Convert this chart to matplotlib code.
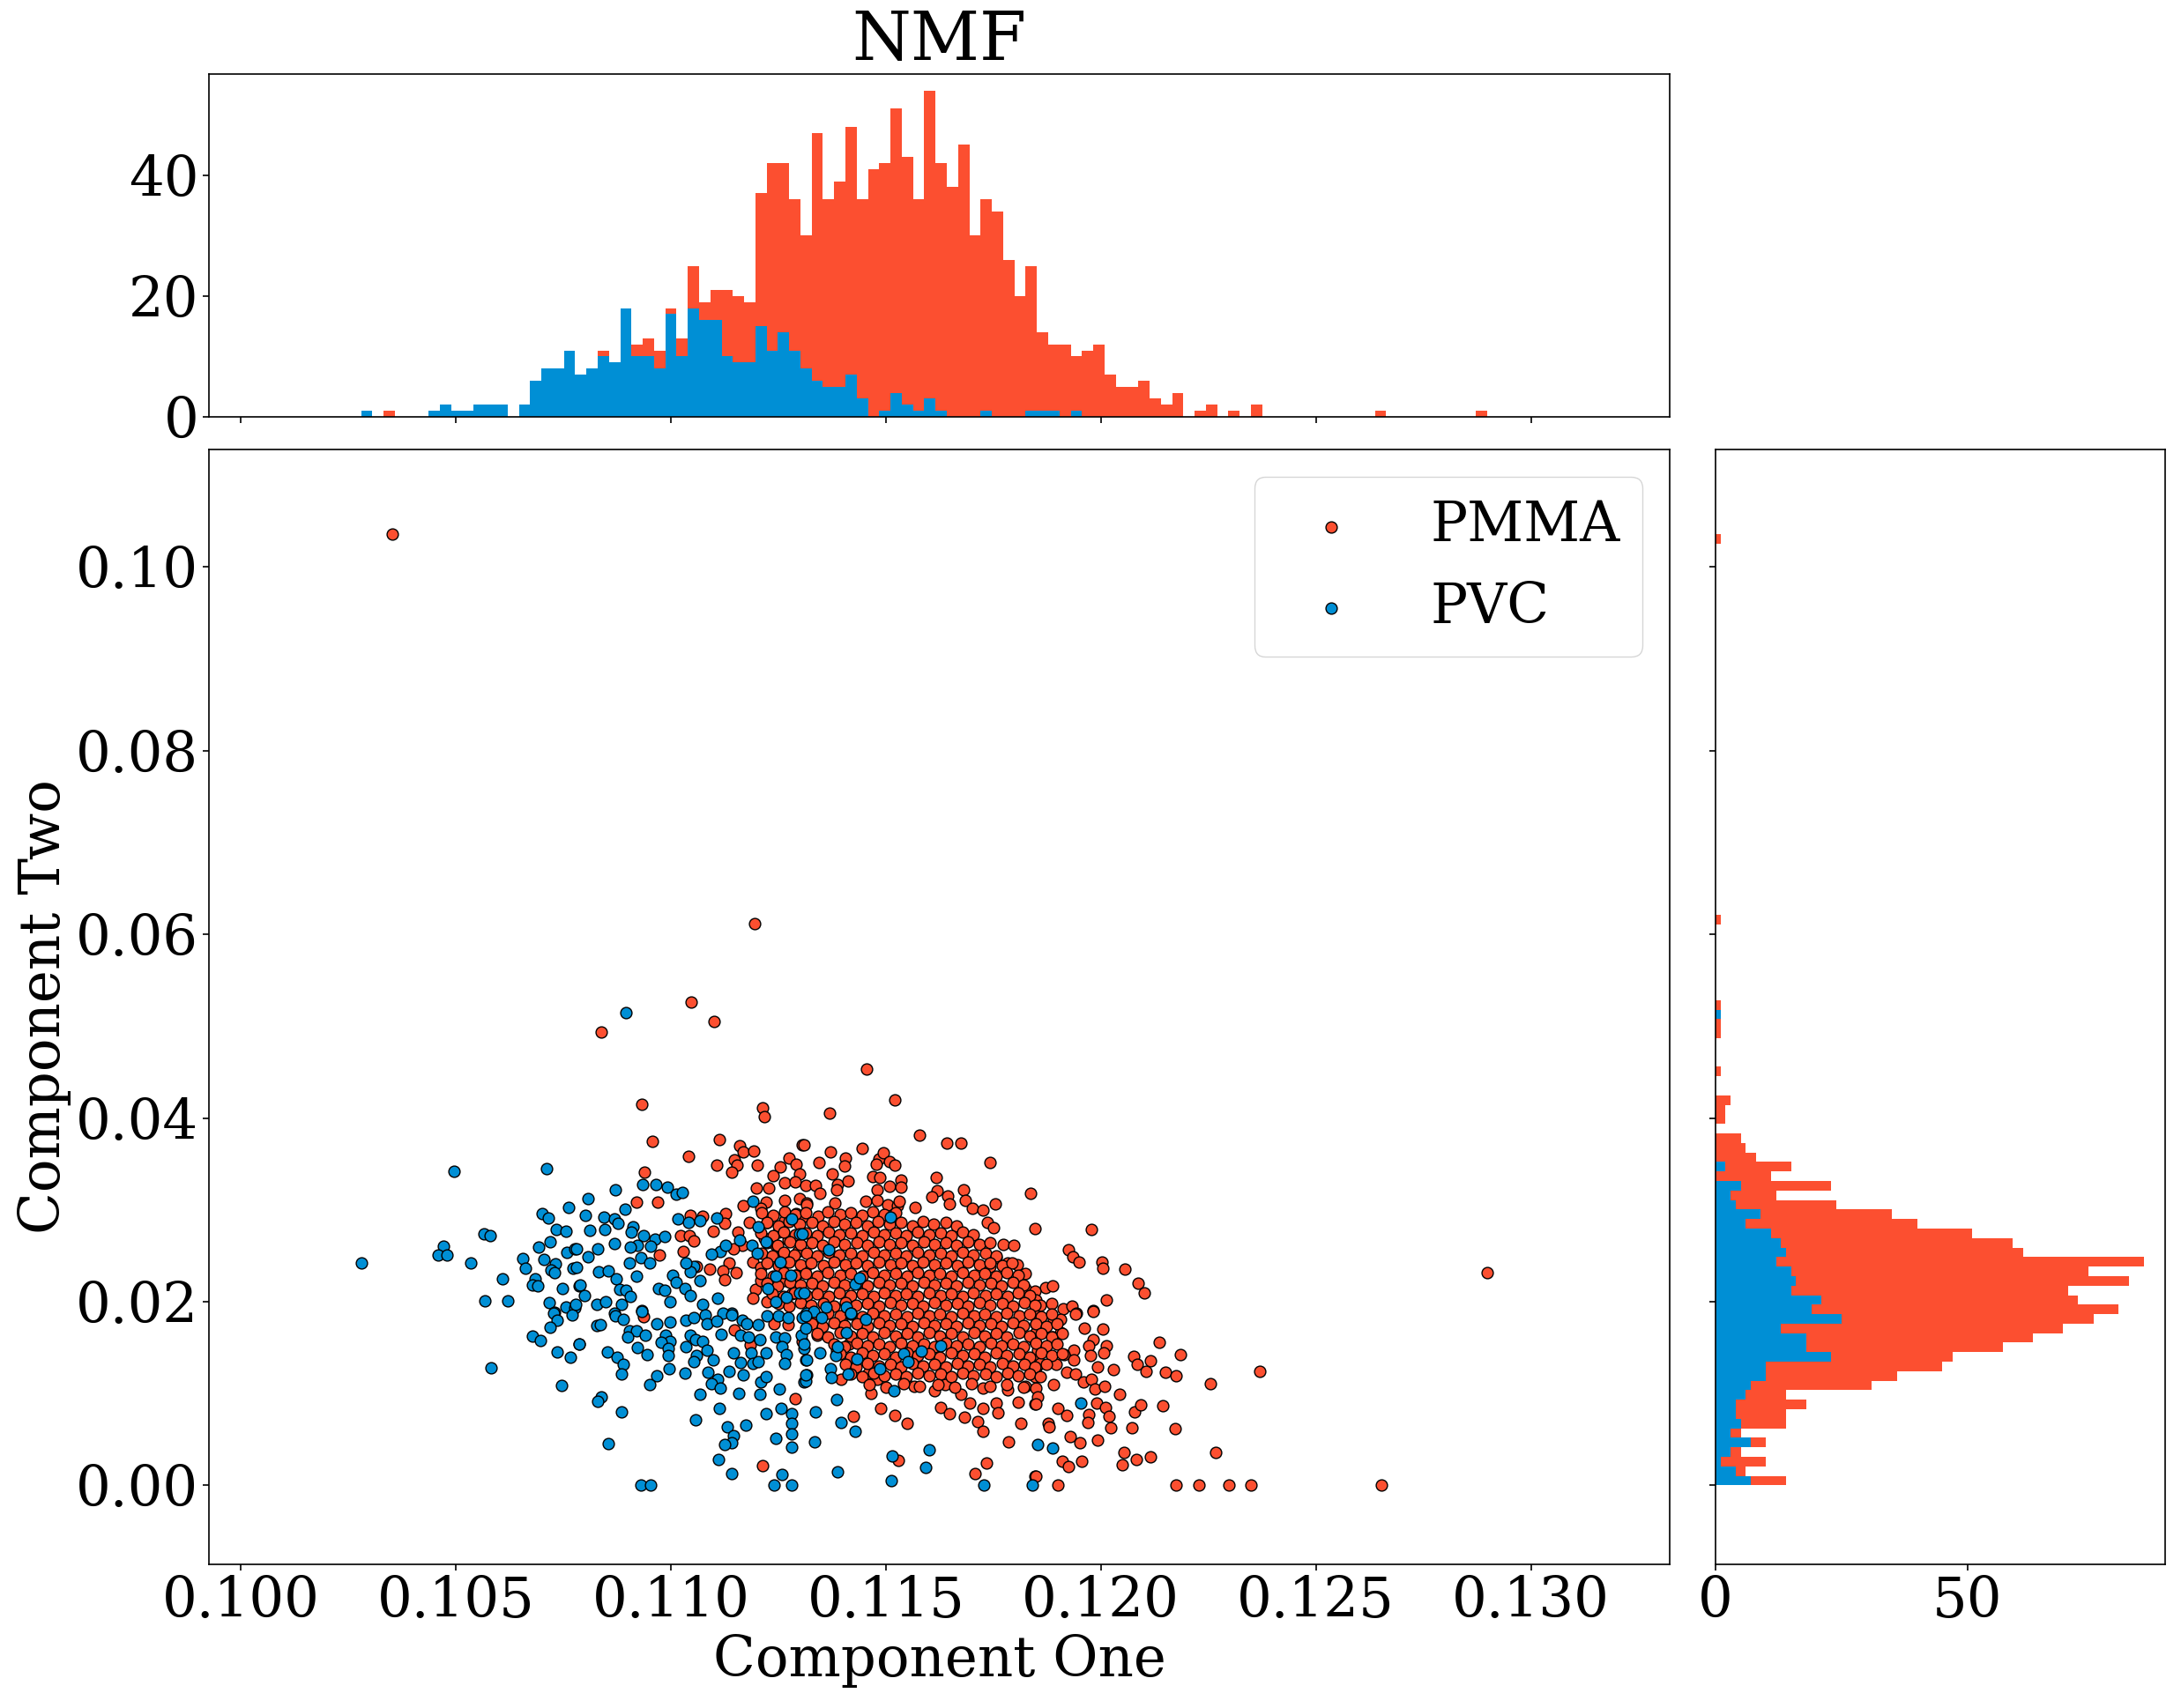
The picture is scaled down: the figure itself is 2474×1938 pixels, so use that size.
import numpy as np
import matplotlib
matplotlib.use("Agg")
import matplotlib.pyplot as plt

# colours (fivethirtyeight style)
red = "#fc4f30"
blue = "#008fd5"

# ---------------- scatter data ----------------
# PMMA outliers
pmma_outliers = [(0.10353, 0.1036), (0.11194, 0.0612), (0.11048, 0.0526), (0.11100, 0.0505),
                 (0.10838, 0.0494), (0.11456, 0.0453), (0.10932, 0.0415), (0.11520, 0.0420),
                 (0.11369, 0.0405), (0.11213, 0.0411), (0.11218, 0.0402), (0.12653, 0.0),
                 (0.12899, 0.02318)]

# PMMA points around the edge of the cloud
pmma_edge = [
    (0.10957, 0.03748), (0.11113, 0.03764), (0.11160, 0.03700), (0.11169, 0.03636), (0.11192, 0.03642),
    (0.11042, 0.03588), (0.11106, 0.03489), (0.11147, 0.03546), (0.11154, 0.03492), (0.11142, 0.03412),
    (0.11202, 0.03486), (0.11305, 0.03710), (0.11274, 0.03562), (0.11292, 0.03502), (0.11255, 0.03470),
    (0.10939, 0.03412), (0.11300, 0.03396), (0.11238, 0.03370), (0.11265, 0.03297), (0.11290, 0.03306),
    (0.11200, 0.03242), (0.11227, 0.03236), (0.11313, 0.03268), (0.10920, 0.03086), (0.10969, 0.03082),
    (0.11168, 0.03044), (0.11221, 0.03082), (0.11265, 0.03108), (0.11299, 0.03124), (0.11210, 0.03022),
    (0.11316, 0.03076), (0.11046, 0.02942), (0.11074, 0.02932), (0.11128, 0.02961), (0.11125, 0.02852),
    (0.11098, 0.02766), (0.11022, 0.02724), (0.11043, 0.02718), (0.11053, 0.02660), (0.11029, 0.02548),
    (0.10973, 0.02510), (0.11183, 0.02862), (0.11156, 0.02756), (0.11167, 0.02612), (0.11145, 0.02574),
    (0.11135, 0.02420), (0.11121, 0.02340), (0.11152, 0.02318), (0.11125, 0.02244), (0.11091, 0.02356),
    (0.11060, 0.02388), (0.11190, 0.02436), (0.11210, 0.02372), (0.11224, 0.02868), (0.11251, 0.02756),
    (0.11265, 0.02884), (0.11292, 0.02964), (0.11309, 0.02932), (0.11217, 0.02692), (0.11244, 0.02612),
    (0.11272, 0.02676), (0.11296, 0.02548), (0.11251, 0.02484), (0.11197, 0.02132), (0.11210, 0.02228),
    (0.11238, 0.02260), (0.11265, 0.02228), (0.11292, 0.02292), (0.11313, 0.02388), (0.11190, 0.02036),
    (0.11224, 0.02004), (0.11282, 0.02084),
    (0.10936, 0.01837), (0.11147, 0.01693), (0.11185, 0.01533), (0.11289, 0.00947), (0.11214, 0.00211),
    (0.11241, 0.01763), (0.11272, 0.01747), (0.11306, 0.01571),
    (0.11579, 0.03812), (0.11641, 0.03726), (0.11674, 0.03726), (0.11743, 0.03514), (0.11836, 0.03182),
    (0.11847, 0.02794), (0.11446, 0.03668), (0.11372, 0.03630), (0.11407, 0.03566), (0.11405, 0.03476),
    (0.11345, 0.03514), (0.11309, 0.03706), (0.11376, 0.03396), (0.11484, 0.03556), (0.11494, 0.03620),
    (0.11508, 0.03530), (0.11521, 0.03492), (0.11478, 0.03502), (0.11617, 0.03354), (0.11680, 0.03220),
    (0.11620, 0.03214), (0.11607, 0.03140), (0.11643, 0.03156), (0.11648, 0.03066), (0.11685, 0.03108),
    (0.11702, 0.03022), (0.11726, 0.02996), (0.11754, 0.03066), (0.11569, 0.03028), (0.11736, 0.02862),
    (0.11750, 0.02804), (0.11774, 0.02628), (0.11798, 0.02612), (0.11784, 0.02420), (0.11805, 0.02404),
    (0.11825, 0.02308), (0.11825, 0.02148), (0.11846, 0.01972), (0.11757, 0.02484), (0.11743, 0.02388),
    (0.11470, 0.03364), (0.11487, 0.03354), (0.11508, 0.03258), (0.11535, 0.03322), (0.11535, 0.03252),
    (0.11388, 0.03274), (0.11412, 0.03316), (0.11385, 0.03220), (0.11337, 0.03268), (0.11347, 0.03182),
    (0.11316, 0.03060), (0.11381, 0.03076), (0.11453, 0.03092), (0.11480, 0.03220), (0.11480, 0.03108),
    (0.11504, 0.03060), (0.11528, 0.03044), (0.11531, 0.03092),
    (0.11977, 0.02785), (0.11925, 0.02570), (0.11935, 0.02490), (0.11950, 0.02430), (0.12003, 0.02436),
    (0.12005, 0.02362), (0.12056, 0.02353), (0.12087, 0.02202), (0.12100, 0.02094), (0.11872, 0.02154),
    (0.11888, 0.02174), (0.11846, 0.02116), (0.11849, 0.02020), (0.11860, 0.01962), (0.11885, 0.01978),
    (0.11912, 0.01924), (0.11933, 0.01950), (0.11943, 0.01876), (0.11982, 0.01902), (0.12012, 0.02020),
    (0.11465, 0.00999), (0.11489, 0.00835), (0.11520, 0.00765), (0.11549, 0.00675), (0.11424, 0.00755),
    (0.11627, 0.00851), (0.11648, 0.00781), (0.11682, 0.00739), (0.11695, 0.00893), (0.11725, 0.00835),
    (0.11713, 0.00697), (0.11725, 0.00589), (0.11757, 0.00899), (0.11760, 0.00787), (0.11808, 0.00905),
    (0.11813, 0.00675), (0.11846, 0.00883), (0.11786, 0.00473), (0.11529, 0.00275), (0.11735, 0.00243),
    (0.11708, 0.00125), (0.11846, 0.00099), (0.11545, 0.01139), (0.11566, 0.01075), (0.11613, 0.01027),
    (0.11637, 0.01097), (0.11675, 0.00995), (0.11726, 0.01059), (0.11784, 0.01043), (0.11825, 0.01075),
    (0.11480, 0.01155), (0.11460, 0.01219), (0.11395, 0.01155), (0.11340, 0.01635), (0.11333, 0.01779),
    (0.11398, 0.01779), (0.11415, 0.01539), (0.11385, 0.01475),
    (0.11890, 0.01811), (0.11907, 0.01811), (0.11941, 0.01865), (0.11982, 0.01897), (0.11962, 0.01715),
    (0.12005, 0.01705), (0.11907, 0.01667), (0.11887, 0.01619), (0.11866, 0.01683), (0.11849, 0.01763),
    (0.11982, 0.01587), (0.11972, 0.01523), (0.12013, 0.01517), (0.12006, 0.01443), (0.11938, 0.01475),
    (0.11914, 0.01427), (0.11897, 0.01315), (0.11938, 0.01363), (0.11993, 0.01289), (0.11976, 0.01411),
    (0.12030, 0.01257), (0.11921, 0.01235), (0.11941, 0.01213), (0.11959, 0.01129), (0.11979, 0.01155),
    (0.11986, 0.01053), (0.12008, 0.01075), (0.11890, 0.01097), (0.12044, 0.00989), (0.11849, 0.01059),
    (0.11853, 0.00963), (0.11849, 0.00883), (0.11900, 0.00841), (0.11921, 0.00761), (0.11991, 0.00893),
    (0.12010, 0.00851), (0.11972, 0.00771), (0.11969, 0.00685), (0.12018, 0.00749), (0.12023, 0.00627),
    (0.11877, 0.00675), (0.11880, 0.00637), (0.11928, 0.00531), (0.11952, 0.00467), (0.11993, 0.00489),
    (0.12073, 0.00627), (0.12078, 0.00803), (0.12092, 0.00873), (0.12145, 0.00867), (0.12172, 0.00617),
    (0.12054, 0.00355), (0.12082, 0.00281), (0.12116, 0.00307), (0.12049, 0.00227), (0.11911, 0.00259),
    (0.11924, 0.00201), (0.11955, 0.00259), (0.11900, 0.0), (0.11849, 0.00099), (0.12268, 0.00355),
    (0.12174, 0.0), (0.12228, 0.0), (0.12298, 0.0), (0.12349, 0.0), (0.12077, 0.01405),
    (0.12085, 0.01315), (0.12105, 0.01241), (0.12116, 0.01357), (0.12136, 0.01555), (0.12151, 0.01235),
    (0.12175, 0.01193), (0.12186, 0.01424), (0.12254, 0.01107), (0.12369, 0.01241),
    (0.11846, 0.01859), (0.11849, 0.01667), (0.11846, 0.01571), (0.11853, 0.01475), (0.11846, 0.01363),
    (0.11849, 0.01283), (0.11846, 0.01187), (0.11860, 0.01331),
]

# PMMA dense core, row by row
pmma_core = [
    (0.11212, 0.0297), (0.11238, 0.0294), (0.11265, 0.0298), (0.11290, 0.0295), (0.11313, 0.0297),
    (0.11342, 0.0293), (0.11366, 0.0298), (0.11394, 0.0295), (0.11418, 0.0297), (0.11445, 0.0294),
    (0.11470, 0.0298), (0.11497, 0.0295), (0.11522, 0.0297),
    (0.11223, 0.0286), (0.11250, 0.0283), (0.11275, 0.0287), (0.11300, 0.0284), (0.11328, 0.0286),
    (0.11353, 0.0283), (0.11380, 0.0287), (0.11404, 0.0284), (0.11431, 0.0286), (0.11458, 0.0283),
    (0.11482, 0.0287), (0.11509, 0.0284), (0.11535, 0.0286), (0.11562, 0.0283), (0.11587, 0.0287),
    (0.11612, 0.0284), (0.11640, 0.0286), (0.11664, 0.0283),
    (0.11210, 0.0275), (0.11237, 0.0272), (0.11262, 0.0276), (0.11289, 0.0273), (0.11314, 0.0275),
    (0.11340, 0.0272), (0.11367, 0.0276), (0.11392, 0.0273), (0.11419, 0.0275), (0.11444, 0.0272),
    (0.11471, 0.0276), (0.11496, 0.0273), (0.11523, 0.0275), (0.11548, 0.0272), (0.11575, 0.0276),
    (0.11600, 0.0273), (0.11627, 0.0275), (0.11652, 0.0272), (0.11679, 0.0276), (0.11703, 0.0273),
    (0.11224, 0.0264), (0.11249, 0.0261), (0.11276, 0.0265), (0.11301, 0.0262), (0.11328, 0.0264),
    (0.11353, 0.0261), (0.11380, 0.0265), (0.11405, 0.0262), (0.11432, 0.0264), (0.11457, 0.0261),
    (0.11484, 0.0265), (0.11509, 0.0262), (0.11536, 0.0264), (0.11561, 0.0261), (0.11588, 0.0265),
    (0.11613, 0.0262), (0.11640, 0.0264), (0.11665, 0.0261), (0.11692, 0.0265), (0.11717, 0.0262),
    (0.11742, 0.0264),
    (0.11211, 0.0253), (0.11236, 0.0250), (0.11263, 0.0254), (0.11288, 0.0251), (0.11315, 0.0253),
    (0.11340, 0.0250), (0.11367, 0.0254), (0.11392, 0.0251), (0.11419, 0.0253), (0.11444, 0.0250),
    (0.11471, 0.0254), (0.11496, 0.0251), (0.11523, 0.0253), (0.11548, 0.0250), (0.11575, 0.0254),
    (0.11600, 0.0251), (0.11627, 0.0253), (0.11652, 0.0250), (0.11679, 0.0254), (0.11704, 0.0251),
    (0.11731, 0.0253), (0.11756, 0.0250),
    (0.11223, 0.0242), (0.11250, 0.0239), (0.11275, 0.0243), (0.11302, 0.0240), (0.11327, 0.0242),
    (0.11354, 0.0239), (0.11379, 0.0243), (0.11406, 0.0240), (0.11431, 0.0242), (0.11458, 0.0239),
    (0.11483, 0.0243), (0.11510, 0.0240), (0.11535, 0.0242), (0.11562, 0.0239), (0.11587, 0.0243),
    (0.11614, 0.0240), (0.11639, 0.0242), (0.11666, 0.0239), (0.11691, 0.0243), (0.11718, 0.0240),
    (0.11743, 0.0242), (0.11770, 0.0239), (0.11794, 0.0242),
    (0.11210, 0.0231), (0.11237, 0.0228), (0.11262, 0.0232), (0.11289, 0.0229), (0.11314, 0.0231),
    (0.11341, 0.0228), (0.11366, 0.0232), (0.11393, 0.0229), (0.11418, 0.0231), (0.11445, 0.0228),
    (0.11470, 0.0232), (0.11497, 0.0229), (0.11522, 0.0231), (0.11549, 0.0228), (0.11574, 0.0232),
    (0.11601, 0.0229), (0.11626, 0.0231), (0.11653, 0.0228), (0.11678, 0.0232), (0.11705, 0.0229),
    (0.11730, 0.0231), (0.11757, 0.0228), (0.11782, 0.0232), (0.11807, 0.0229),
    (0.11224, 0.0220), (0.11249, 0.0217), (0.11276, 0.0221), (0.11301, 0.0218), (0.11328, 0.0220),
    (0.11353, 0.0217), (0.11380, 0.0221), (0.11405, 0.0218), (0.11432, 0.0220), (0.11457, 0.0217),
    (0.11484, 0.0221), (0.11509, 0.0218), (0.11536, 0.0220), (0.11561, 0.0217), (0.11588, 0.0221),
    (0.11613, 0.0218), (0.11640, 0.0220), (0.11665, 0.0217), (0.11692, 0.0221), (0.11717, 0.0218),
    (0.11744, 0.0220), (0.11769, 0.0217), (0.11796, 0.0221), (0.11820, 0.0218),
    (0.11236, 0.0209), (0.11263, 0.0206), (0.11288, 0.0210), (0.11315, 0.0207), (0.11340, 0.0209),
    (0.11367, 0.0206), (0.11392, 0.0210), (0.11419, 0.0207), (0.11444, 0.0209), (0.11471, 0.0206),
    (0.11496, 0.0210), (0.11523, 0.0207), (0.11548, 0.0209), (0.11575, 0.0206), (0.11600, 0.0210),
    (0.11627, 0.0207), (0.11652, 0.0209), (0.11679, 0.0206), (0.11704, 0.0210), (0.11731, 0.0207),
    (0.11756, 0.0209), (0.11783, 0.0206), (0.11808, 0.0210), (0.11834, 0.0207),
    (0.11250, 0.0198), (0.11275, 0.0195), (0.11302, 0.0199), (0.11327, 0.0196), (0.11354, 0.0198),
    (0.11379, 0.0195), (0.11406, 0.0199), (0.11431, 0.0196), (0.11458, 0.0198), (0.11483, 0.0195),
    (0.11510, 0.0199), (0.11535, 0.0196), (0.11562, 0.0198), (0.11587, 0.0195), (0.11614, 0.0199),
    (0.11639, 0.0196), (0.11666, 0.0198), (0.11691, 0.0195), (0.11718, 0.0199), (0.11743, 0.0196),
    (0.11770, 0.0198), (0.11795, 0.0195), (0.11822, 0.0199), (0.11847, 0.0196),
    (0.11314, 0.0187), (0.11341, 0.0184), (0.11366, 0.0188), (0.11393, 0.0185), (0.11418, 0.0187),
    (0.11445, 0.0184), (0.11470, 0.0188), (0.11497, 0.0185), (0.11522, 0.0187), (0.11549, 0.0184),
    (0.11574, 0.0188), (0.11601, 0.0185), (0.11626, 0.0187), (0.11653, 0.0184), (0.11678, 0.0188),
    (0.11705, 0.0185), (0.11730, 0.0187), (0.11757, 0.0184), (0.11782, 0.0188), (0.11809, 0.0185),
    (0.11834, 0.0187), (0.11861, 0.0184), (0.11885, 0.0187),
    (0.11328, 0.0176), (0.11353, 0.0173), (0.11380, 0.0177), (0.11405, 0.0174), (0.11432, 0.0176),
    (0.11457, 0.0173), (0.11484, 0.0177), (0.11509, 0.0174), (0.11536, 0.0176), (0.11561, 0.0173),
    (0.11588, 0.0177), (0.11613, 0.0174), (0.11640, 0.0176), (0.11665, 0.0173), (0.11692, 0.0177),
    (0.11717, 0.0174), (0.11744, 0.0176), (0.11769, 0.0173), (0.11796, 0.0177), (0.11821, 0.0174),
    (0.11848, 0.0176), (0.11873, 0.0173), (0.11898, 0.0176),
    (0.11341, 0.0165), (0.11366, 0.0162), (0.11393, 0.0166), (0.11418, 0.0163), (0.11445, 0.0165),
    (0.11470, 0.0162), (0.11497, 0.0166), (0.11522, 0.0163), (0.11549, 0.0165), (0.11574, 0.0162),
    (0.11601, 0.0166), (0.11626, 0.0163), (0.11653, 0.0165), (0.11678, 0.0162), (0.11705, 0.0166),
    (0.11730, 0.0163), (0.11757, 0.0165), (0.11782, 0.0162), (0.11809, 0.0166), (0.11834, 0.0163),
    (0.11861, 0.0165), (0.11886, 0.0162), (0.11911, 0.0165),
    (0.11380, 0.0154), (0.11405, 0.0151), (0.11432, 0.0155), (0.11457, 0.0152), (0.11484, 0.0154),
    (0.11509, 0.0151), (0.11536, 0.0155), (0.11561, 0.0152), (0.11588, 0.0154), (0.11613, 0.0151),
    (0.11640, 0.0155), (0.11665, 0.0152), (0.11692, 0.0154), (0.11717, 0.0151), (0.11744, 0.0155),
    (0.11769, 0.0152), (0.11796, 0.0154), (0.11821, 0.0151), (0.11848, 0.0155), (0.11873, 0.0152),
    (0.11898, 0.0154),
    (0.11393, 0.0143), (0.11418, 0.0140), (0.11445, 0.0144), (0.11470, 0.0141), (0.11497, 0.0143),
    (0.11522, 0.0140), (0.11549, 0.0144), (0.11574, 0.0141), (0.11601, 0.0143), (0.11626, 0.0140),
    (0.11653, 0.0144), (0.11678, 0.0141), (0.11705, 0.0143), (0.11730, 0.0140), (0.11757, 0.0144),
    (0.11782, 0.0141), (0.11809, 0.0143), (0.11834, 0.0140), (0.11861, 0.0144), (0.11886, 0.0141),
    (0.11910, 0.0143),
    (0.11406, 0.0132), (0.11431, 0.0129), (0.11458, 0.0133), (0.11483, 0.0130), (0.11510, 0.0132),
    (0.11535, 0.0129), (0.11562, 0.0133), (0.11587, 0.0130), (0.11614, 0.0132), (0.11639, 0.0129),
    (0.11666, 0.0133), (0.11691, 0.0130), (0.11718, 0.0132), (0.11743, 0.0129), (0.11770, 0.0133),
    (0.11795, 0.0130), (0.11822, 0.0132), (0.11847, 0.0129), (0.11873, 0.0132),
    (0.11419, 0.0121), (0.11444, 0.0118), (0.11471, 0.0122), (0.11496, 0.0119), (0.11523, 0.0121),
    (0.11548, 0.0118), (0.11575, 0.0122), (0.11600, 0.0119), (0.11627, 0.0121), (0.11652, 0.0118),
    (0.11679, 0.0122), (0.11704, 0.0119), (0.11731, 0.0121), (0.11756, 0.0118), (0.11783, 0.0122),
    (0.11808, 0.0119), (0.11835, 0.0121), (0.11860, 0.0118),
    (0.11462, 0.0110), (0.11500, 0.0107), (0.11541, 0.0111), (0.11578, 0.0108), (0.11622, 0.0110),
    (0.11660, 0.0107), (0.11700, 0.0111), (0.11742, 0.0108), (0.11781, 0.0110), (0.11820, 0.0107),
]

# PVC points
pvc_pts = [
    (0.10896, 0.0515),
    (0.10496, 0.03418), (0.10712, 0.03450), (0.10280, 0.02423), (0.10565, 0.02740), (0.10580, 0.02718),
    (0.10471, 0.02609), (0.10459, 0.02506), (0.10479, 0.02506), (0.10534, 0.02423), (0.10609, 0.02250),
    (0.10567, 0.02010), (0.10620, 0.02010), (0.10700, 0.02958), (0.10715, 0.02910), (0.10763, 0.03028),
    (0.10733, 0.02788), (0.10757, 0.02766), (0.10720, 0.02654), (0.10692, 0.02596), (0.10759, 0.02538),
    (0.10776, 0.02580), (0.10655, 0.02471), (0.10662, 0.02362), (0.10706, 0.02462), (0.10732, 0.02414),
    (0.10722, 0.02346), (0.10729, 0.02318), (0.10773, 0.02362), (0.10685, 0.02254), (0.10679, 0.02180),
    (0.10690, 0.02170), (0.10749, 0.02145), (0.10787, 0.02174), (0.10718, 0.01994), (0.10729, 0.01886),
    (0.10757, 0.01946), (0.10776, 0.01930),
    (0.10728, 0.01878), (0.10735, 0.01801), (0.10770, 0.01859), (0.10720, 0.01718), (0.10679, 0.01622),
    (0.10696, 0.01577), (0.10735, 0.01449), (0.10767, 0.01392), (0.10787, 0.01539), (0.10581, 0.01277),
    (0.10746, 0.01085),
    (0.10872, 0.03220), (0.10807, 0.03124), (0.10935, 0.03278), (0.10966, 0.03278), (0.10992, 0.03252),
    (0.11012, 0.03172), (0.11027, 0.03188), (0.10893, 0.03006), (0.10802, 0.02942), (0.10845, 0.02922),
    (0.10869, 0.02900), (0.10877, 0.02852), (0.10811, 0.02778), (0.10847, 0.02788), (0.10913, 0.02814),
    (0.10908, 0.02756), (0.10937, 0.02724), (0.10964, 0.02682), (0.10985, 0.02708), (0.10954, 0.02606),
    (0.10923, 0.02612), (0.10906, 0.02596), (0.10869, 0.02634), (0.10831, 0.02574), (0.10780, 0.02580),
    (0.10807, 0.02490), (0.10903, 0.02420), (0.10930, 0.02478), (0.10951, 0.02420), (0.10833, 0.02324),
    (0.10855, 0.02334), (0.10874, 0.02254), (0.10920, 0.02276), (0.10780, 0.02372), (0.10790, 0.02180),
    (0.10800, 0.02068), (0.10828, 0.01972), (0.10848, 0.02004), (0.10882, 0.02132), (0.10896, 0.02122),
    (0.10906, 0.02058), (0.10886, 0.01972), (0.10971, 0.02148), (0.10985, 0.02126), (0.11005, 0.02292),
    (0.11012, 0.02212), (0.11033, 0.02148), (0.11046, 0.02068), (0.11067, 0.02228), (0.11074, 0.01972),
    (0.11108, 0.02036), (0.11142, 0.01876), (0.11016, 0.02900), (0.11041, 0.02868), (0.11067, 0.02884),
    (0.11106, 0.02916), (0.11115, 0.02548), (0.11094, 0.02516), (0.11128, 0.02612), (0.11161, 0.02676),
    (0.11188, 0.02618), (0.11202, 0.02532), (0.11190, 0.03092), (0.11203, 0.02820), (0.11221, 0.02650),
    (0.11255, 0.02436), (0.11244, 0.02276), (0.11282, 0.02900), (0.11299, 0.02740), (0.11279, 0.02292),
    (0.11225, 0.02148), (0.11244, 0.02004), (0.11268, 0.02052), (0.11299, 0.02100), (0.11316, 0.01876),
    (0.11053, 0.02388), (0.11046, 0.02324), (0.10869, 0.01876), (0.10932, 0.01908), (0.10778, 0.01972),
    (0.10998, 0.02004), (0.11036, 0.02420), (0.11121, 0.01876),
    (0.10828, 0.01737), (0.10836, 0.01747), (0.10872, 0.01843), (0.10889, 0.01811), (0.10932, 0.01891),
    (0.10903, 0.01683), (0.10920, 0.01683), (0.10899, 0.01619), (0.10940, 0.01635), (0.10968, 0.01763),
    (0.10998, 0.01779), (0.10988, 0.01635), (0.10998, 0.01571), (0.10978, 0.01555), (0.10787, 0.01539),
    (0.10852, 0.01449), (0.10875, 0.01395), (0.10889, 0.01315), (0.10886, 0.01213), (0.10922, 0.01497),
    (0.10944, 0.01427), (0.10994, 0.01491), (0.10995, 0.01411), (0.10997, 0.01267), (0.11033, 0.01225),
    (0.11036, 0.01795), (0.11053, 0.01827), (0.11080, 0.01859), (0.11084, 0.01763), (0.11106, 0.01789),
    (0.11046, 0.01635), (0.11057, 0.01587), (0.11074, 0.01571), (0.11036, 0.01513), (0.11085, 0.01475),
    (0.11060, 0.01411), (0.11053, 0.01347), (0.11098, 0.01363), (0.11087, 0.01235), (0.11118, 0.01641),
    (0.11142, 0.01859), (0.11166, 0.01795), (0.11176, 0.01763), (0.11203, 0.01747), (0.11162, 0.01635),
    (0.11180, 0.01619), (0.11207, 0.01587), (0.11145, 0.01443), (0.11162, 0.01337), (0.11186, 0.01443),
    (0.11190, 0.01331), (0.11203, 0.01347), (0.11221, 0.01443), (0.11244, 0.01619), (0.11265, 0.01603),
    (0.11258, 0.01507), (0.11268, 0.01427), (0.11264, 0.01331), (0.11224, 0.01843), (0.11251, 0.01843),
    (0.11272, 0.01827), (0.11306, 0.01827), (0.11303, 0.01635), (0.11309, 0.01491), (0.11313, 0.01363),
    (0.11309, 0.01123), (0.11316, 0.01203), (0.11135, 0.01241), (0.11169, 0.01203), (0.11108, 0.01155),
    (0.11094, 0.01107), (0.11115, 0.01059), (0.11210, 0.01123), (0.11221, 0.01187), (0.10968, 0.01193),
    (0.10951, 0.01097), (0.10839, 0.00963), (0.10831, 0.00915), (0.10886, 0.00803), (0.11068, 0.00989),
    (0.11157, 0.01001), (0.11208, 0.00989), (0.11253, 0.01053), (0.11113, 0.00835), (0.11057, 0.00713),
    (0.11174, 0.00659), (0.11132, 0.00637), (0.11145, 0.00541), (0.11142, 0.00467), (0.11126, 0.00445),
    (0.11221, 0.00781), (0.11257, 0.00835), (0.11282, 0.00777), (0.11280, 0.00675), (0.11282, 0.00563),
    (0.11244, 0.00515), (0.11282, 0.00419), (0.11111, 0.00281), (0.10855, 0.00451), (0.10930, 0.0),
    (0.10954, 0.0), (0.11142, 0.00131), (0.11258, 0.00115), (0.11241, 0.0), (0.11280, 0.0),
    (0.11511, 0.02922), (0.11367, 0.02570), (0.11429, 0.02196), (0.11439, 0.02260), (0.11333, 0.01892),
    (0.11361, 0.01940), (0.11408, 0.01940), (0.11419, 0.01876), (0.11306, 0.02740), (0.11309, 0.02100),
    (0.11385, 0.00937), (0.11337, 0.00797), (0.11396, 0.00685), (0.11428, 0.00585), (0.11335, 0.00473),
    (0.11388, 0.00147), (0.11514, 0.00323), (0.11600, 0.00387), (0.11592, 0.00195), (0.11513, 0.00051),
    (0.11728, 0.0), (0.11840, 0.0), (0.11852, 0.00441), (0.11518, 0.01033), (0.11487, 0.01273),
    (0.11432, 0.01379), (0.11371, 0.01267), (0.11374, 0.01177), (0.11412, 0.01213), (0.11313, 0.01139),
    (0.11313, 0.01203), (0.11347, 0.01443), (0.11383, 0.01411), (0.11316, 0.01363), (0.11542, 0.01433),
    (0.11552, 0.01347), (0.11583, 0.01459), (0.11627, 0.01523), (0.11388, 0.01507), (0.11309, 0.01539),
    (0.11350, 0.01827), (0.11313, 0.01843), (0.11419, 0.01875), (0.11453, 0.01811), (0.11408, 0.01667),
    (0.11313, 0.01715),
    (0.11888, 0.00403), (0.11954, 0.00899),
]

# ---------------- histogram counts ----------------
# top: 100 shared bins over Component One
pmma_top_counts = [0, 0, 1, 0, 0, 0, 0, 0, 0, 0,
                   0, 0, 0, 0, 0, 0, 0, 0, 0, 0,
                   0, 11, 0, 0, 12, 13, 11, 18, 13, 25,
                   19, 21, 21, 20, 19, 37, 42, 42, 36, 30,
                   47, 36, 39, 48, 36, 41, 42, 51, 43, 36,
                   54, 42, 38, 45, 30, 36, 34, 26, 20, 25,
                   14, 12, 12, 10, 11, 12, 7, 5, 5, 6,
                   3, 2, 4, 0, 1, 2, 0, 1, 0, 2,
                   0, 0, 0, 0, 0, 0, 0, 0, 0, 0,
                   1, 0, 0, 0, 0, 0, 0, 0, 0, 1]
pvc_top_counts = [1, 0, 0, 0, 0, 0, 1, 2, 1, 1,
                  2, 2, 2, 0, 2, 6, 8, 8, 11, 7,
                  8, 10, 9, 18, 10, 10, 8, 17, 10, 18,
                  16, 16, 10, 9, 9, 15, 11, 14, 11, 8,
                  6, 5, 5, 7, 3, 0, 1, 4, 2, 1,
                  3, 1, 0, 0, 0, 1, 0, 0, 0, 1,
                  1, 1, 0, 1, 0, 0, 0, 0, 0, 0,
                  0, 0, 0, 0, 0, 0, 0, 0, 0, 0,
                  0, 0, 0, 0, 0, 0, 0, 0, 0, 0,
                  0, 0, 0, 0, 0, 0, 0, 0, 0, 0]
# right: 100 shared bins over Component Two (bottom bin first)
pmma_right_counts = [14, 6, 10, 5, 10, 5, 14, 14, 18, 14,
                     31, 36, 45, 47, 57, 63, 69, 75, 80, 72,
                     70, 82, 74, 85, 61, 59, 51, 40, 35, 24,
                     12, 23, 11, 15, 8, 6, 5, 0, 2, 2,
                     3, 0, 0, 1, 0, 0, 0, 1, 1, 0,
                     1, 0, 0, 0, 0, 0, 0, 0, 0, 1,
                     0, 0, 0, 0, 0, 0, 0, 0, 0, 0,
                     0, 0, 0, 0, 0, 0, 0, 0, 0, 0,
                     0, 0, 0, 0, 0, 0, 0, 0, 0, 0,
                     0, 0, 0, 0, 0, 0, 0, 0, 0, 1]
pvc_right_counts = [7, 4, 1, 3, 7, 3, 5, 4, 4, 6,
                    7, 10, 10, 23, 18, 18, 13, 25, 19, 21,
                    15, 16, 15, 12, 14, 13, 11, 6, 9, 4,
                    3, 5, 0, 2, 0, 0, 0, 0, 0, 0,
                    0, 0, 0, 0, 0, 0, 0, 0, 0, 1,
                    0, 0, 0, 0, 0, 0, 0, 0, 0, 0,
                    0, 0, 0, 0, 0, 0, 0, 0, 0, 0,
                    0, 0, 0, 0, 0, 0, 0, 0, 0, 0,
                    0, 0, 0, 0, 0, 0, 0, 0, 0, 0,
                    0, 0, 0, 0, 0, 0, 0, 0, 0, 0]

# ---------------- plot ----------------
plt.rcParams["font.family"] = "DejaVu Serif"
plt.rcParams["axes.linewidth"] = 1.2

pmma = np.array(pmma_outliers + pmma_edge + pmma_core)
pvc = np.array(pvc_pts)
all_pts = np.vstack([pmma, pvc])
x_edges = np.linspace(all_pts[:, 0].min(), all_pts[:, 0].max(), 101)
y_edges = np.linspace(all_pts[:, 1].min(), all_pts[:, 1].max(), 101)

fig = plt.figure(figsize=(24.74, 19.38), dpi=100)
ax = fig.add_axes([0.0958, 0.0841, 0.6698, 0.6527])
ax_top = fig.add_axes([0.0958, 0.7559, 0.6698, 0.2007], sharex=ax)
ax_right = fig.add_axes([0.7866, 0.0841, 0.2061, 0.6527], sharey=ax)

ax.scatter(pmma[:, 0], pmma[:, 1], s=85, c=red, edgecolors="black", linewidths=1.0, label="PMMA")
ax.scatter(pvc[:, 0], pvc[:, 1], s=85, c=blue, edgecolors="black", linewidths=1.0, label="PVC")

ax_top.stairs(pmma_top_counts, x_edges, fill=True, color=red)
ax_top.stairs(pvc_top_counts, x_edges, fill=True, color=blue)
ax_right.stairs(pmma_right_counts, y_edges, fill=True, color=red, orientation="horizontal")
ax_right.stairs(pvc_right_counts, y_edges, fill=True, color=blue, orientation="horizontal")

ax.set_xlim(0.09926, 0.13323)
ax.set_ylim(-0.0086, 0.1128)
ax.set_xticks([0.100, 0.105, 0.110, 0.115, 0.120, 0.125, 0.130])
ax.set_yticks([0.00, 0.02, 0.04, 0.06, 0.08, 0.10])
ax_top.set_ylim(0, 56.7)
ax_top.set_yticks([0, 20, 40])
ax_right.set_xlim(0, 89.25)
ax_right.set_xticks([0, 50])

for a in (ax, ax_top, ax_right):
    a.tick_params(labelsize=45, length=5, width=1.2)
ax_top.tick_params(labelbottom=False)
ax_right.tick_params(labelleft=False)

ax.set_xlabel("Component One", fontsize=45)
ax.set_ylabel("Component Two", fontsize=45)
ax_top.set_title("NMF", fontsize=55)
ax.legend(loc="upper right", fontsize=45)

plt.savefig("out.png", dpi=100)
